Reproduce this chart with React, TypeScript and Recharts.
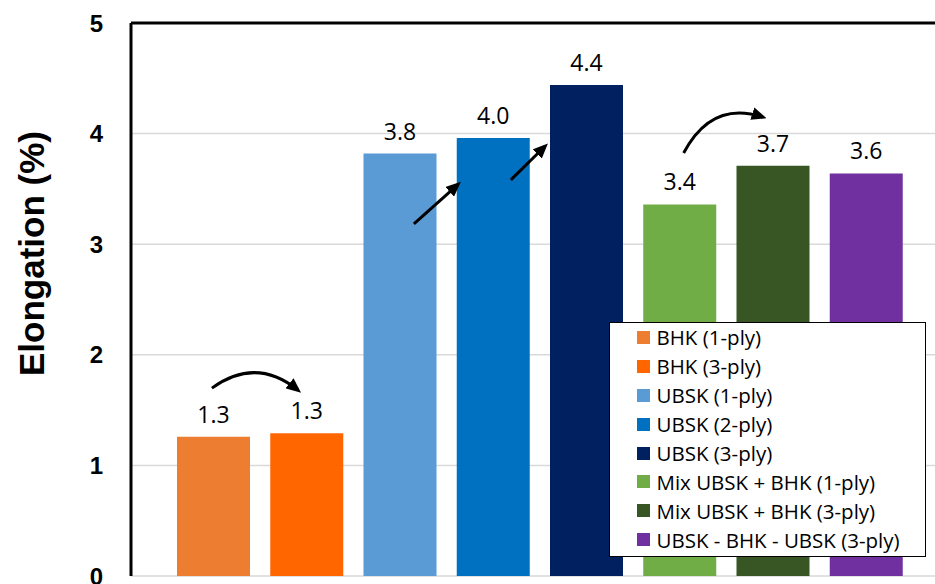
import React from 'react';
import {
  BarChart,
  Bar,
  XAxis,
  YAxis,
  CartesianGrid,
  LabelList,
  Cell,
  Legend,
  ReferenceLine,
  Label,
} from 'recharts';

const categories = [
  'BHK (1-ply)',
  'BHK (3-ply)',
  'UBSK (1-ply)',
  'UBSK (2-ply)',
  'UBSK (3-ply)',
  'Mix UBSK + BHK (1-ply)',
  'Mix UBSK + BHK (3-ply)',
  'UBSK - BHK - UBSK (3-ply)',
];
const elongation = [1.26, 1.29, 3.82, 3.96, 4.44, 3.36, 3.71, 3.64];
const colors = ['#ED7D31', '#FF6600', '#5B9BD5', '#0070C0', '#002060', '#70AD47', '#375623', '#7030A0'];
const yTicks = [0, 1, 2, 3, 4, 5];
const yTitle = 'Elongation (%)';

const data = categories.map((name, i) => ({ name, value: elongation[i] }));

const FONT = '"Open Sans", "DejaVu Sans", sans-serif';
const BOLD_FONT = '"Liberation Sans", Arial, sans-serif';

// Annotation arrows, anchored to a bar (by index) relative to its top-centre.
type Arrow = { bar: number; d: (cx: number, top: number) => string };
const arrows: Arrow[] = [
  { bar: 0, d: (cx, t) => `M${cx - 1.6},${t - 48.5} Q${cx + 42.4},${t - 80.5} ${cx + 84.5},${t - 46.5}` },
  { bar: 2, d: (cx, t) => `M${cx + 13.9},${t + 70.4} L${cx + 57.9},${t + 31}` },
  { bar: 3, d: (cx, t) => `M${cx + 17.6},${t + 41.9} L${cx + 51.8},${t + 8.2}` },
  { bar: 5, d: (cx, t) => `M${cx + 3.9},${t - 51.4} Q${cx + 31.9},${t - 104.4} ${cx + 83},${t - 87.3}` },
];

const renderLabel = (props: any) => {
  const { x, y, width, value, index } = props;
  const cx = Number(x) + Number(width) / 2;
  const top = Number(y);
  const arrs = arrows.filter((a) => a.bar === index);
  return (
    <g>
      <text
        x={cx}
        y={top - 14}
        textAnchor="middle"
        fontFamily={FONT}
        fontSize={23}
        fill="#000"
      >
        {Number(value).toFixed(1)}
      </text>
      {arrs.map((a, k) => (
        <path
          key={k}
          d={a.d(cx, top)}
          fill="none"
          stroke="#000"
          strokeWidth={3}
          markerEnd="url(#arrowHead)"
        />
      ))}
    </g>
  );
};

const renderYTitle = (props: any) => {
  const vb = props.viewBox || { x: 0, y: 23, width: 131, height: 553 };
  const x = vb.x + 31;
  const y = vb.y + vb.height / 2 - 46;
  return (
    <text
      x={x}
      y={y}
      transform={`rotate(-90, ${x}, ${y})`}
      textAnchor="middle"
      dominantBaseline="central"
      fontFamily={BOLD_FONT}
      fontSize={35}
      fontWeight={700}
      fill="#000"
    >
      {yTitle}
    </text>
  );
};

const LegendBox = () => (
  <div
    style={{
      width: 317,
      height: 235,
      boxSizing: 'border-box',
      border: '1.5px solid #000',
      background: '#fff',
      paddingTop: 0,
      paddingLeft: 26.5,
      fontFamily: FONT,
      fontSize: 20.5,
      color: '#000',
    }}
  >
    {categories.map((c, i) => (
      <div key={c} style={{ display: 'flex', alignItems: 'center', height: 28.9, whiteSpace: 'nowrap' }}>
        <span style={{ display: 'inline-block', flex: 'none', width: 13, height: 13, background: colors[i], marginRight: 7 }} />
        <span>{c}</span>
      </div>
    ))}
  </div>
);

export default function App() {
  return (
    <div
      style={{
        position: 'absolute',
        left: 0,
        top: 0,
        width: 935,
        height: 584,
        overflow: 'hidden',
        background: '#fff',
      }}
    >
      <BarChart
        width={960}
        height={584}
        data={data}
        margin={{ top: 23, right: 15, bottom: 8, left: 0 }}
        barSize={73}
      >
        <defs>
          <marker
            id="arrowHead"
            markerUnits="userSpaceOnUse"
            markerWidth={15}
            markerHeight={13}
            viewBox="0 0 15 13"
            refX={11}
            refY={6.5}
            orient="auto"
          >
            <path d="M0,0 L15,6.5 L0,13 z" fill="#000" />
          </marker>
        </defs>
        <CartesianGrid vertical={false} stroke="#D9D9D9" strokeWidth={1.5} />
        <XAxis
          dataKey="name"
          type="category"
          tick={false}
          tickLine={false}
          height={0}
          padding={{ left: 36, right: 32 }}
          axisLine={{ stroke: '#000', strokeWidth: 3 }}
        />
        <YAxis
          width={131}
          domain={[0, 5]}
          ticks={yTicks}
          interval={0}
          tickLine={false}
          tickSize={0}
          tickMargin={28}
          axisLine={{ stroke: '#000', strokeWidth: 3 }}
          tick={{ fontFamily: BOLD_FONT, fontSize: 24, fontWeight: 700, fill: '#000' }}
        >
          <Label content={renderYTitle} />
        </YAxis>
        <ReferenceLine y={5} stroke="#000" strokeWidth={3} />
        <Bar dataKey="value" isAnimationActive={false}>
          {data.map((d, i) => (
            <Cell key={d.name} fill={colors[i]} />
          ))}
          <LabelList dataKey="value" content={renderLabel} />
        </Bar>
        <Legend
          layout="horizontal"
          verticalAlign="middle"
          align="center"
          content={() => <LegendBox />}
          wrapperStyle={{ left: 609, top: 322, width: 317, height: 235 }}
        />
      </BarChart>
    </div>
  );
}
